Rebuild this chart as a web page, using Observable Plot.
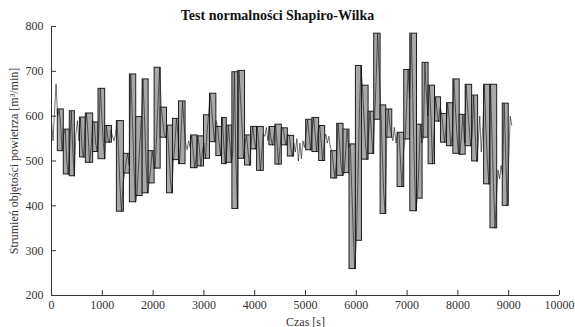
<!DOCTYPE html>
<html>
<head>
<meta charset="utf-8">
<script src="https://cdn.jsdelivr.net/npm/d3@7"></script>
<script src="https://cdn.jsdelivr.net/npm/@observablehq/plot@0.6"></script>
<style>
  body { margin: 0; background: white; }
  #wrap { position: relative; width: 575px; height: 327px; }
  #title { position: absolute; left: 0; width: 555px; top: 8px; text-align: center;
           font-family: "Liberation Serif", serif; font-weight: bold; font-size: 14px; color: #111; }
</style>
</head>
<body>
<div id="wrap"><div id="title">Test normalności Shapiro-Wilka</div></div>
<script>
// Windows (bars): start time, end time, min and max flow
const barStart = [124,242,360,560,675,820,925,1057,1287,1425,1543,1668,1794,1912,2030,2149,2273,2391,2509,2746,2876,3002,3120,3245,3357,3450,3561,3679,3810,3929,4047,4290,4408,4534,4652,5013,5137,5269,5506,5624,5749,5866,5992,6111,6242,6353,6478,6590,6813,6944,7063,7195,7305,7423,7550,7668,7786,7911,8035,8153,8280,8516,8641,8883];
const barEnd   = [242,360,460,675,820,925,1057,1190,1425,1543,1668,1794,1912,2030,2149,2273,2391,2509,2639,2876,3002,3120,3245,3357,3450,3561,3679,3810,3929,4047,4179,4408,4534,4652,4776,5137,5269,5387,5624,5749,5866,5992,6111,6242,6353,6478,6590,6708,6944,7063,7195,7305,7423,7550,7668,7786,7911,8035,8153,8280,8398,8641,8773,9001];
const barLow   = [522,470,466,508,496,520,504,541,387,472,408,422,428,450,483,552,428,502,493,484,488,505,542,511,493,496,393,505,490,526,478,535,492,535,510,524,520,500,461,467,473,259,322,503,516,592,382,552,442,548,388,416,552,493,588,541,533,516,514,533,499,448,350,400];
const barHigh  = [615,570,611,597,606,586,661,578,589,516,693,598,682,522,708,619,579,594,633,557,555,602,650,576,596,579,698,701,557,576,576,576,581,573,556,592,596,578,522,583,570,537,712,668,610,784,624,615,563,703,784,581,719,668,642,605,629,682,603,670,646,670,670,628];

// Air flow trace, sampled every 30 s from t = 0 s
const sampleStep = 30;
const flow = [
 590,545,610,672,600,
 615,580,522,560,
 570,500,470,530,
 611,520,466,
 560,590,545,
 597,530,508,570,
 606,560,496,530,590,
 586,540,520,
 560,661,600,540,504,
 578,550,541,570,
 555,545,560,
 589,520,440,387,450,
 472,500,516,490,
 693,600,500,408,
 422,480,540,598,
 682,600,500,428,
 450,480,522,500,
 483,560,640,708,
 619,590,560,552,
 579,520,460,428,
 502,540,594,560,
 493,560,633,580,
 540,525,545,530,
 557,520,484,510,
 555,530,488,520,540,
 505,560,602,
 650,620,580,542,590,
 576,540,511,
 596,540,493,
 520,579,540,496,
 520,698,500,393,
 701,640,580,505,540,
 557,520,490,
 540,576,550,526,
 576,540,478,520,560,
 555,575,545,
 576,550,535,560,
 581,540,492,530,570,
 573,550,535,560,
 556,530,510,540,
 520,550,500,540,505,545,530,560,
 592,560,524,570,
 596,560,520,570,
 578,540,500,545,
 560,540,555,530,
 522,490,461,500,
 583,540,490,467,
 473,520,570,530,
 537,440,340,259,
 322,450,600,712,
 668,600,540,503,560,
 610,560,516,
 592,680,784,700,
 624,520,430,382,
 552,615,580,560,
 545,575,540,560,
 563,500,442,520,
 548,620,703,640,
 784,650,500,388,
 416,480,581,540,
 552,719,650,600,
 668,600,493,560,
 642,610,588,620,
 605,570,541,580,
 629,590,533,560,
 682,620,560,516,
 514,560,603,540,
 670,620,580,533,
 560,646,560,499,
 540,600,520,575,
 670,580,500,448,
 670,560,450,350,420,
 480,460,490,470,
 628,520,400,500,
 600,580
];

const xTicks = [0,1000,2000,3000,4000,5000,6000,7000,8000,9000,10000];
const yTicks = [200,300,400,500,600,700,800];

const bars = barStart.map((s, i) => ({s, e: barEnd[i], lo: barLow[i], hi: barHigh[i]}));
const trace = flow.map((v, i) => ({t: i * sampleStep, v}));

const chart = Plot.plot({
  width: 575,
  height: 327,
  marginLeft: 51,
  marginRight: 16,
  marginTop: 26,
  marginBottom: 32,
  style: {fontFamily: "Liberation Serif, serif", fontSize: "12px", color: "#333", background: "white", overflow: "visible"},
  x: {domain: [0, 10000]},
  y: {domain: [200, 800]},
  marks: [
    Plot.rect(bars, {x1: "s", x2: "e", y1: "lo", y2: "hi", fill: "#a8a8a8", stroke: "#1e1e1e", strokeWidth: 1}),
    Plot.line(trace, {x: "t", y: "v", stroke: "#111", strokeWidth: 0.6}),
    Plot.ruleY([200], {stroke: "#333"}),
    Plot.ruleX([0], {stroke: "#333"}),
    Plot.axisX({ticks: xTicks, tickSize: -5, tickPadding: 10, tickFormat: d => String(d),
                label: "Czas [s]", labelAnchor: "center", labelArrow: "none", labelOffset: 30}),
    Plot.axisY({ticks: yTicks, tickSize: -5, tickPadding: 13, tickFormat: d => String(d),
                label: "Strumień objętości powietrza [m³/min]", labelAnchor: "center", labelArrow: "none", labelOffset: 42})
  ]
});
document.getElementById("wrap").appendChild(chart);
</script>
</body>
</html>
